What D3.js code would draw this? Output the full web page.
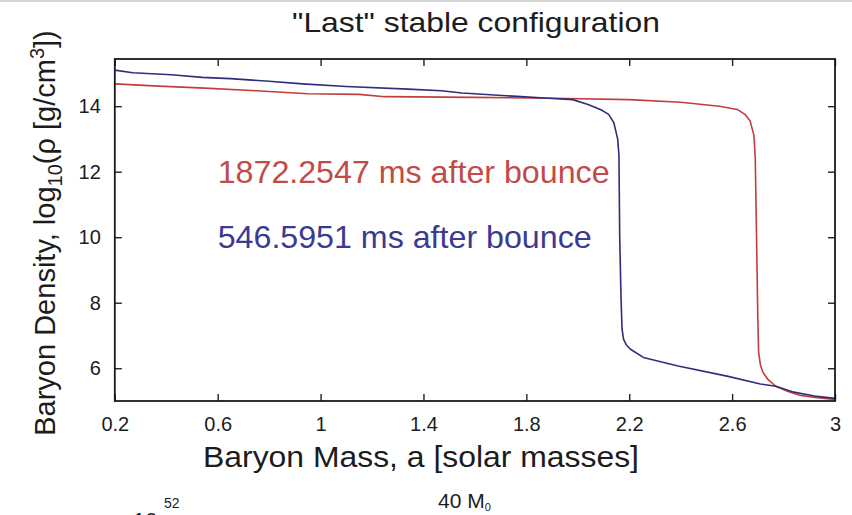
<!DOCTYPE html>
<html>
<head>
<meta charset="utf-8">
<script src="https://cdn.jsdelivr.net/npm/d3@7"></script>
<style>
  html, body { margin: 0; padding: 0; background: #fff; }
  svg { display: block; }
  text { font-family: "Liberation Sans", Arial, Helvetica, sans-serif; fill: #1c1c1c; }
</style>
</head>
<body>
<svg id="chart" width="852" height="515"></svg>
<script>
// Baryon density profile vs. enclosed baryon mass (log10 of g/cm^3)
const redMass = [0.2, 0.35, 0.55, 0.75, 0.95, 1.15, 1.25, 1.6, 1.9, 2.2, 2.4, 2.55, 2.62, 2.65, 2.67, 2.685,
                 2.69, 2.695, 2.7, 2.703, 2.71, 2.72, 2.74, 2.77, 2.82, 2.86, 2.93, 3.0];
const redLogRho = [14.68, 14.62, 14.55, 14.47, 14.38, 14.36, 14.29, 14.27, 14.24, 14.2, 14.12, 14.0, 13.9, 13.75, 13.55, 13.1,
                   12.4, 10.0, 7.5, 6.5, 6.1, 5.87, 5.65, 5.45, 5.28, 5.18, 5.1, 5.05];

const blueMass = [0.2, 0.27, 0.42, 0.54, 0.65, 0.8, 0.93, 1.1, 1.34, 1.47, 1.55, 1.66, 1.78, 1.87, 1.98, 2.04,
                  2.09, 2.12, 2.14, 2.155, 2.16, 2.163, 2.168, 2.172, 2.178, 2.19, 2.205, 2.255, 2.39, 2.58,
                  2.71, 2.77, 2.84, 2.92, 3.0];
const blueLogRho = [15.1, 15.02, 14.96, 14.88, 14.84, 14.76, 14.68, 14.6, 14.52, 14.47, 14.4, 14.35, 14.29, 14.25, 14.2, 14.05,
                    13.89, 13.75, 13.5, 13.0, 12.5, 10.0, 8.2, 7.2, 6.88, 6.7, 6.58, 6.33, 6.07, 5.76,
                    5.52, 5.45, 5.27, 5.15, 5.08];

const xTicks = [0.2, 0.6, 1, 1.4, 1.8, 2.2, 2.6, 3];
const yTicks = [6, 8, 10, 12, 14];

const seriesLabels = ["1872.2547 ms after bounce", "546.5951 ms after bounce"];
const labelAnchors = [[0.6, 12], [0.6, 10]];

const W = 852, H = 515;
const margin = { top: 59, right: 17, bottom: 114, left: 114.8 };
const svg = d3.select("#chart");

// thin grey strip along the top edge
svg.append("rect").attr("x", 0).attr("y", 0).attr("width", W).attr("height", 2).attr("fill", "#d6d6d6");

const x = d3.scaleLinear().domain([0.2, 3]).range([margin.left, W - margin.right]);
const y = d3.scaleLinear().domain([5, 15.44]).range([H - margin.bottom, margin.top]);

const RED = "#c23e3c", BLUE = "#2e2e7e";
const RED_TXT = "#c24a47", BLUE_TXT = "#3a3a92";

// curves
const line = d3.line().x(d => x(d[0])).y(d => y(d[1]));
const redPts = d3.zip(redMass, redLogRho);
const bluePts = d3.zip(blueMass, blueLogRho);

svg.append("clipPath").attr("id", "plotclip").append("rect")
  .attr("x", x(0.2)).attr("y", y(15.44)).attr("width", x(3) - x(0.2)).attr("height", y(5) - y(15.44));

const plot = svg.append("g").attr("clip-path", "url(#plotclip)");
plot.append("path").datum(redPts).attr("d", line)
  .attr("fill", "none").attr("stroke", RED).attr("stroke-width", 1.6).attr("stroke-linejoin", "round");
plot.append("path").datum(bluePts).attr("d", line)
  .attr("fill", "none").attr("stroke", BLUE).attr("stroke-width", 1.6).attr("stroke-linejoin", "round");

// axes: ticks point inward on all four sides
const tickLen = 7;
const fmt = d => String(d);
const xb = svg.append("g").attr("transform", `translate(0,${y(5)})`)
  .call(d3.axisBottom(x).tickValues(xTicks).tickFormat(fmt).tickSizeInner(-tickLen).tickSizeOuter(0).tickPadding(16));
const xt = svg.append("g").attr("transform", `translate(0,${y(15.44)})`)
  .call(d3.axisTop(x).tickValues(xTicks).tickFormat("").tickSizeInner(-tickLen).tickSizeOuter(0));
const yl = svg.append("g").attr("transform", `translate(${x(0.2)},0)`)
  .call(d3.axisLeft(y).tickValues(yTicks).tickFormat(fmt).tickSizeInner(-tickLen).tickSizeOuter(0).tickPadding(14));
const yr = svg.append("g").attr("transform", `translate(${x(3)},0)`)
  .call(d3.axisRight(y).tickValues(yTicks).tickFormat("").tickSizeInner(-tickLen).tickSizeOuter(0));

[xb, xt, yl, yr].forEach(g => {
  g.select(".domain").remove();
  g.selectAll(".tick line").attr("stroke", "#222").attr("stroke-width", 1.4);
  g.selectAll(".tick text").attr("font-size", 20).attr("fill", "#2a2a2a")
    .attr("font-family", "'Liberation Sans', Arial, sans-serif");
});

// axes box
svg.append("rect")
  .attr("x", x(0.2)).attr("y", y(15.44))
  .attr("width", x(3) - x(0.2)).attr("height", y(5) - y(15.44))
  .attr("fill", "none").attr("stroke", "#1a1a1a").attr("stroke-width", 1.8);

// title
svg.append("text")
  .attr("transform", "translate(476,32) scale(1.18,1)")
  .attr("text-anchor", "middle").attr("font-size", 27)
  .text("\"Last\" stable configuration");

// x axis label
svg.append("text")
  .attr("transform", "translate(421,467) scale(1.1,1)")
  .attr("text-anchor", "middle").attr("font-size", 29)
  .text("Baryon Mass, a [solar masses]");

// y axis label
const ylab = svg.append("text")
  .attr("transform", "translate(55,233) rotate(-90)")
  .attr("text-anchor", "middle").attr("font-size", 29);
ylab.append("tspan").text("Baryon Density, log");
ylab.append("tspan").attr("font-size", 20).attr("dy", 7).text("10");
ylab.append("tspan").attr("dy", -7).text("(\u03C1 [g/cm");
ylab.append("tspan").attr("font-size", 20).attr("dy", -11).text("3");
ylab.append("tspan").attr("dy", 11).text("])");

// series annotations
const annColors = [RED_TXT, BLUE_TXT];
seriesLabels.forEach((s, i) => {
  svg.append("text")
    .attr("x", x(labelAnchors[i][0])).attr("y", y(labelAnchors[i][1]))
    .attr("dy", "0.35em")
    .attr("font-size", 32.2)
    .style("fill", annColors[i])
    .text(s);
});

// bottom strip: start of the next panel
const nextTitle = svg.append("text").attr("x", 438).attr("y", 508).attr("font-size", 21);
nextTitle.append("tspan").text("40 M");
nextTitle.append("tspan").attr("font-size", 11).attr("dy", 3).text("0");

svg.append("text").attr("x", 116).attr("y", 528).attr("font-size", 22).text("x 10");
svg.append("text").attr("x", 164).attr("y", 508).attr("font-size", 14).text("52");
</script>
</body>
</html>
